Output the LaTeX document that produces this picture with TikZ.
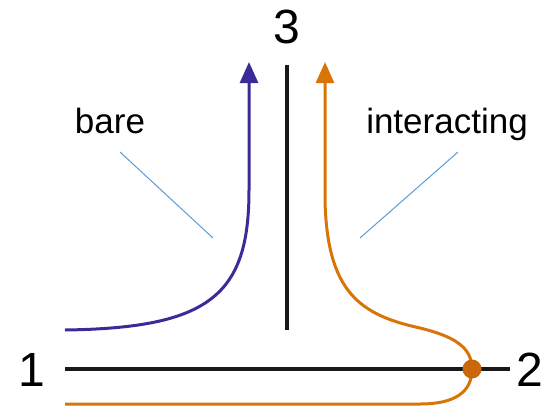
\documentclass[tikz,border=0pt]{standalone}
\usepackage{fontspec}
\setmainfont{Liberation Sans}
\usetikzlibrary{arrows.meta}
\definecolor{bareblue}{HTML}{3A2C98}
\definecolor{interorange}{HTML}{D97408}
\definecolor{dotorange}{HTML}{C9670A}
\definecolor{pointer}{HTML}{5B9BD5}
\begin{document}
\begin{tikzpicture}[x=1pt,y=-1pt,
  axis/.style={line width=3.8pt,black!90},
  curveline/.style={line width=3pt},
  pointerline/.style={line width=1pt,pointer},
  tip/.style={-{Triangle[length=21pt,width=18pt]}},
  biglabel/.style={font=\fontsize{48}{48}\selectfont,inner sep=0pt,anchor=base},
  wordlabel/.style={font=\fontsize{35}{35}\selectfont,inner sep=0pt,anchor=base}]
\useasboundingbox (0,0) rectangle (560,408);
% labels
\node[biglabel] (l3) at (287,43) {3};
\node[biglabel] (l1) at (32,386) {1};
\node[biglabel] (l2) at (530,386) {2};
\node[wordlabel] (bare) at (110,133) {bare};
\node[wordlabel] (inter) at (447,133) {interacting};
% axes
\coordinate (hL) at (65,369);
\coordinate (hR) at (510,369);
\coordinate (vT) at (287,65);
\coordinate (vB) at (287,330);
\draw[axis] (hL) -- (hR);
\draw[axis] (vT) -- (vB);
% pointer lines
\coordinate (bp1) at (120,152);
\coordinate (bp2) at (213,238);
\coordinate (ip1) at (458,152);
\coordinate (ip2) at (360,238);
\draw[pointerline] (bp1) -- (bp2);
\draw[pointerline] (ip1) -- (ip2);
% bare curve
\coordinate (bS) at (65,330);
\coordinate (bE) at (249,62);
\draw[curveline,bareblue,tip] (bS) .. controls (210,328) and (249,295) .. (249,190) -- (bE);
% interacting curve
\coordinate (oS) at (65,404);
\coordinate (oE) at (325,62);
\coordinate (dot) at (472,369);
\draw[curveline,interorange,tip] (oS) -- (420,404)
  .. controls (455,404) and (472,392) .. (dot)
  .. controls (472,346) and (452,336) .. (420,328)
  .. controls (360,315) and (327,292) .. (325,200) -- (oE);
\node[circle,fill=dotorange,minimum size=19pt,inner sep=0pt] (dotnode) at (dot) {};
\end{tikzpicture}
\end{document}
